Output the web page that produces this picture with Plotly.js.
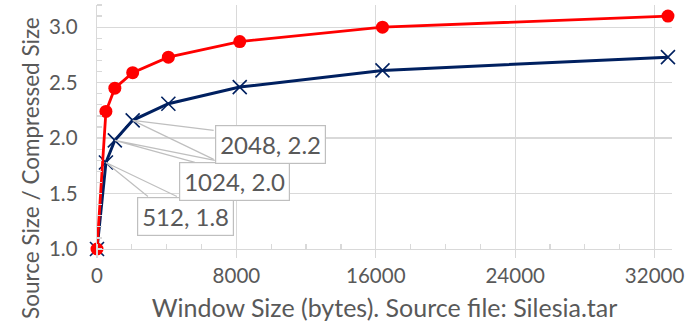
<!DOCTYPE html>
<html>
<head>
<meta charset="utf-8">
<script src="https://cdn.plot.ly/plotly-3.0.1.min.js"></script>
<style>
  html, body { margin: 0; padding: 0; background: #ffffff; }
  #chart { width: 689px; height: 328px; }
</style>
</head>
<body>
<div id="chart"></div>
<script>
// ---- data ----
const windowSizes = [0, 512, 1024, 2048, 4096, 8192, 16384, 32768];
const redRatio    = [1.00, 2.24, 2.45, 2.59, 2.73, 2.87, 3.00, 3.10];
const blueRatio   = [1.00, 1.78, 1.98, 2.16, 2.31, 2.46, 2.61, 2.73];
const calloutIdx  = [1, 2, 3];   // points of the blue series that carry a data callout
const xTickVals   = [0, 8000, 16000, 24000, 32000];
const yTickVals   = [1.0, 1.5, 2.0, 2.5, 3.0];
const xTitle = 'Window Size (bytes). Source file: Silesia.tar';
const yTitle = 'Source Size / Compressed Size';

// ---- style ----
const FONT = 'Lato, "Open Sans", sans-serif';
const TXT = '#595959';
const GRID = '#d9d9d9';
// callout box centre offsets (px, right / down) and wedge ends (px, right / up) per callout
const calloutStyle = [
  { dx: 80,  dy: 54, wedge: [[42, -34], [71, -34]] },
  { dx: 120, dy: 41, wedge: [[80, -22], [100, -20]] },
  { dx: 138, dy: 24, wedge: [[81, -10], [81, -39]] }
];

const traces = [
  {
    x: windowSizes, y: blueRatio, type: 'scatter', mode: 'lines+markers',
    line: { color: '#002060', width: 3 },
    marker: { symbol: 'x-thin', size: 14, line: { color: '#002060', width: 1.6 } },
    cliponaxis: false, hoverinfo: 'skip'
  },
  {
    x: windowSizes, y: redRatio, type: 'scatter', mode: 'lines+markers',
    line: { color: '#ff0000', width: 2.8 },
    marker: { symbol: 'circle', size: 13, color: '#ff0000' },
    cliponaxis: false, hoverinfo: 'skip'
  }
];

const shapes = [];
const annotations = [];
calloutIdx.forEach((idx, k) => {
  const st = calloutStyle[k];
  const path = st.wedge.map(p => 'M0,0 L' + p[0] + ',' + p[1]).join(' ');
  shapes.push({
    type: 'path', layer: 'above',
    xref: 'x', yref: 'y', xsizemode: 'pixel', ysizemode: 'pixel',
    xanchor: windowSizes[idx], yanchor: blueRatio[idx],
    path: path, line: { color: '#bfbfbf', width: 1.2 }
  });
  annotations.push({
    xref: 'x', yref: 'y', x: windowSizes[idx], y: blueRatio[idx],
    text: windowSizes[idx] + ', ' + blueRatio[idx].toFixed(1),
    showarrow: false, xanchor: 'center', yanchor: 'middle',
    xshift: st.dx, yshift: -st.dy,
    bgcolor: '#ffffff', bordercolor: '#bfbfbf', borderwidth: 1.2, borderpad: 4,
    font: { family: FONT, size: 24, color: TXT }
  });
});
// y-axis title (longer than the plot height, so centred on the page like the reference)
annotations.push({
  xref: 'paper', yref: 'paper', x: 0, y: 0.332, xshift: -66,
  xanchor: 'center', yanchor: 'middle', textangle: -90, showarrow: false,
  text: yTitle, font: { family: FONT, size: 22.5, color: TXT }
});

const layout = {
  width: 689, height: 328,
  margin: { l: 97, r: 17, t: 5, b: 79, pad: 0 },
  paper_bgcolor: '#ffffff', plot_bgcolor: '#ffffff',
  showlegend: false,
  font: { family: FONT, color: TXT },
  xaxis: {
    range: [0, 33000], tickvals: xTickVals, ticktext: xTickVals.map(String),
    showgrid: true, gridcolor: GRID, gridwidth: 1.3,
    showline: true, linecolor: GRID, linewidth: 1.3,
    ticks: 'outside', ticklen: 8, tickcolor: GRID, tickwidth: 1.3,
    minor: { dtick: 2000, tick0: 0, ticks: 'inside', ticklen: 5, tickcolor: GRID, tickwidth: 1.2, showgrid: false },
    zeroline: false, tickfont: { family: FONT, size: 20.5, color: TXT },
    ticklabelstandoff: 0,
    title: { text: xTitle, font: { family: FONT, size: 25, color: TXT }, standoff: 13 },
    automargin: false, fixedrange: true
  },
  yaxis: {
    range: [1, 3.2], tickvals: yTickVals, tickformat: '.1f',
    showgrid: true, gridcolor: GRID, gridwidth: 1.3,
    showline: true, linecolor: GRID, linewidth: 1.3,
    ticks: '',
    minor: { dtick: 0.1, tick0: 1, ticks: 'inside', ticklen: 5, tickcolor: GRID, tickwidth: 1.2, showgrid: false },
    zeroline: false, tickfont: { family: FONT, size: 20.5, color: TXT },
    ticklabelstandoff: 14,
    automargin: false, fixedrange: true
  },
  shapes: shapes,
  annotations: annotations
};

Plotly.newPlot('chart', traces, layout, { displayModeBar: false, staticPlot: true });
</script>
</body>
</html>
